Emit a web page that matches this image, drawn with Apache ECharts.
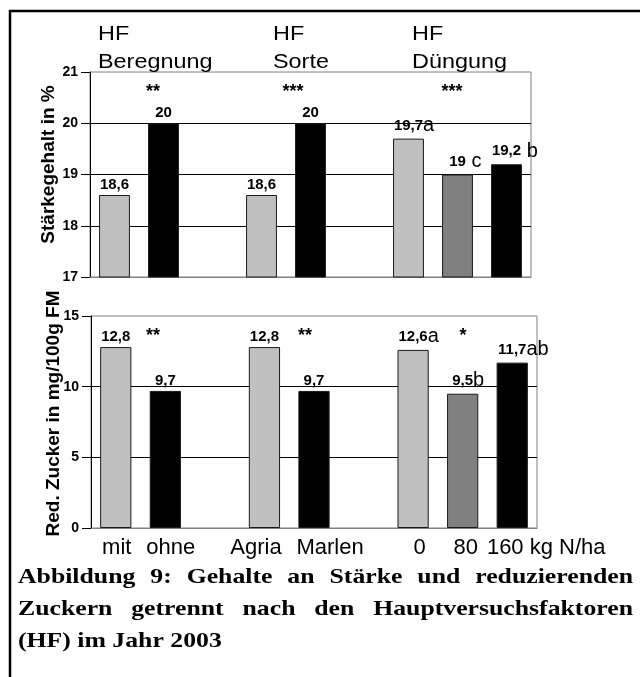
<!DOCTYPE html>
<html><head><meta charset="utf-8">
<script src="https://cdn.jsdelivr.net/npm/echarts@6/dist/echarts.min.js"></script>
<style>html,body{margin:0;padding:0;background:#fff}#c{width:640px;height:677px}</style>
</head><body><div id="c"></div>
<script>
// ---------- data ----------
const categories = ['mit', 'ohne', '', 'Agria', 'Marlen', '', '0', '80', '160'];
const starchValues = [18.6, 20, null, 18.6, 20, null, 19.7, 19, 19.2];
const sugarValues = [12.8, 9.7, null, 12.8, 9.7, null, 12.6, 9.5, 11.7];
const starchLetters = ['', '', '', '', '', '', 'a', ' c', ' b'];
const sugarLetters = ['', '', '', '', '', '', 'a', 'b', 'ab'];
const factorHeaders = [['HF', 'Beregnung'], ['HF', 'Sorte'], ['HF', 'Düngung']];
const starchStars = ['**', '***', '***'];
const sugarStars = ['**', '**', '*'];
const starchRange = [17, 21, 1];
const sugarRange = [0, 15, 5];
const unitLabel = 'kg N/ha';
const starchAxisName = 'Stärkegehalt in %';
const sugarAxisName = 'Red. Zucker in mg/100g FM';
const captionLines = [
  'Abbildung 9: Gehalte an Stärke und reduzierenden',
  'Zuckern getrennt nach den Hauptversuchsfaktoren',
  '(HF) im Jahr 2003'
];

// ---------- styling / layout ----------
const FONT = '"Liberation Sans", Arial, sans-serif';
const SERIF = '"Liberation Serif", "Times New Roman", serif';
const LIGHT = '#c0c0c0', DARK = '#808080', BLACK = '#000000';
const levelColors = [LIGHT, BLACK, null, LIGHT, BLACK, null, LIGHT, DARK, BLACK];
const xLabelShift = [1, 5.5, 0, -8.5, 16, 0, 6.5, 3, 34];
const headerX = [98, 273, 412];
const starPosTop = [[153, 92], [293, 92], [452, 92]];
const starPosBottom = [[153, 336], [305, 336], [463, 336]];
const STRETCH = 1.17; // horizontal stretch of the source figure's text

const ctx = document.createElement('canvas').getContext('2d');
function tw(text, font) { ctx.font = font; return ctx.measureText(text).width; }
function fmt(v) { return String(v).replace('.', ','); }

function barData(values, letters) {
  return values.map((v, i) => {
    if (v == null) return '-';
    const l = letters[i];
    return {
      value: v,
      itemStyle: { color: levelColors[i] },
      label: { offset: [l ? tw(l, '20px ' + FONT) / 2 : 0, 0] }
    };
  });
}
function labelFormatter(letters) {
  return p => {
    const l = letters[p.dataIndex];
    return '{n|' + fmt(p.value) + '}' + (l ? '{l|' + l + '}' : '');
  };
}
const barRich = {
  n: { fontSize: 15, fontWeight: 'bold', fontFamily: FONT, color: '#000' },
  l: { fontSize: 20, fontWeight: 'normal', fontFamily: FONT, color: '#000' }
};

const xRich = {};
xLabelShift.forEach((dx, i) => {
  xRich['s' + i] = {
    fontSize: 22, fontFamily: FONT, color: '#000',
    padding: dx >= 0 ? [0, 0, 0, 2 * dx] : [0, -2 * dx, 0, 0]
  };
});

function yAxis(grid, range, name, nameShift, gap) {
  return {
    type: 'value', gridIndex: grid, min: range[0], max: range[1], interval: range[2],
    axisLine: { show: true, lineStyle: { color: '#000', width: 1 } },
    axisTick: { show: true, inside: false, length: 9, lineStyle: { color: '#000', width: 1 } },
    axisLabel: { fontSize: 14, fontWeight: 'bold', fontFamily: FONT, color: '#000', margin: 12,
      showMinLabel: true, showMaxLabel: true },
    splitLine: { show: true, showMinLine: false, showMaxLine: false, lineStyle: { color: '#000', width: 1 } },
    name: name, nameLocation: 'middle', nameRotate: 90, nameGap: gap, nameMoveOverlap: false,
    nameTextStyle: { fontSize: 19, fontWeight: 'bold', fontFamily: FONT, color: '#000',
      padding: [0, 0, 0, nameShift] }
  };
}

function barSeries(grid, values, letters) {
  return {
    type: 'bar', xAxisIndex: grid, yAxisIndex: grid, barWidth: '63%',
    data: barData(values, letters),
    itemStyle: { borderColor: '#1a1a1a', borderWidth: 1 },
    label: { show: true, position: 'top', distance: 3, formatter: labelFormatter(letters), rich: barRich },
    silent: true, animation: false
  };
}

const graphics = [];
// figure frame (open at right/bottom as in the source)
graphics.push({ type: 'polyline', shape: { points: [[10, 720], [10, 11], [700, 11]] },
  style: { stroke: '#000', lineWidth: 2.5, fill: null } });
// factor headers
factorHeaders.forEach((h, i) => {
  [h[0], h[1]].forEach((t, k) => graphics.push({ type: 'text', x: headerX[i], y: k ? 62 : 34, scaleX: STRETCH,
    style: { text: t, fontSize: 20, fontFamily: FONT, fill: '#000', align: 'left', verticalAlign: 'middle' } }));
});
// significance stars
starchStars.forEach((s, i) => graphics.push({ type: 'text', x: starPosTop[i][0], y: starPosTop[i][1],
  style: { text: s, fontSize: 18, fontWeight: 'bold', fontFamily: FONT, fill: '#000', align: 'center', verticalAlign: 'middle' } }));
sugarStars.forEach((s, i) => graphics.push({ type: 'text', x: starPosBottom[i][0], y: starPosBottom[i][1],
  style: { text: s, fontSize: 18, fontWeight: 'bold', fontFamily: FONT, fill: '#000', align: 'center', verticalAlign: 'middle' } }));
// caption, justified
const capFont = 'bold 22px ' + SERIF;
const capY = [577, 609, 641];
captionLines.forEach((line, li) => {
  const words = line.split(' ');
  const widths = words.map(w => tw(w, capFont) * STRETCH);
  const total = widths.reduce((a, b) => a + b, 0);
  const x0 = 18, x1 = 633;
  const justify = li < captionLines.length - 1;
  const gap = justify ? (x1 - x0 - total) / (words.length - 1) : tw(' ', capFont) * STRETCH;
  let x = x0;
  words.forEach((w, i) => {
    graphics.push({ type: 'text', x: x, y: capY[li], scaleX: STRETCH,
      style: { text: w, fontSize: 22, fontWeight: 'bold', fontFamily: SERIF, fill: '#000', align: 'left', verticalAlign: 'middle' } });
    x += widths[i] + gap;
  });
});

const option = {
  animation: false,
  backgroundColor: '#fff',
  grid: [
    { left: 90, top: 72, width: 441, height: 205, show: true, borderColor: '#808080', borderWidth: 1, containLabel: false, outerBoundsMode: 'none' },
    { left: 91, top: 316, width: 446, height: 212, show: true, borderColor: '#808080', borderWidth: 1, containLabel: false, outerBoundsMode: 'none' }
  ],
  xAxis: [
    { type: 'category', gridIndex: 0, data: categories, axisLine: { show: true, lineStyle: { color: '#808080' } },
      axisTick: { show: false }, axisLabel: { show: false } },
    { type: 'category', gridIndex: 1, data: categories, axisLine: { show: true, lineStyle: { color: '#808080' } },
      axisTick: { show: false },
      axisLabel: { show: true, interval: 0, margin: 9, fontSize: 22, fontFamily: FONT, color: '#000',
        formatter: (v, i) => '{s' + i + '|' + (i === categories.length - 1 ? v + ' ' + unitLabel : v) + '}',
        rich: xRich } }
  ],
  yAxis: [
    yAxis(0, starchRange, starchAxisName, 20, 32),
    yAxis(1, sugarRange, sugarAxisName, 17, 28)
  ],
  series: [
    barSeries(0, starchValues, starchLetters),
    barSeries(1, sugarValues, sugarLetters)
  ],
  graphic: graphics
};
const chart = echarts.init(document.getElementById('c'));
chart.setOption(option);
</script>
</body></html>
